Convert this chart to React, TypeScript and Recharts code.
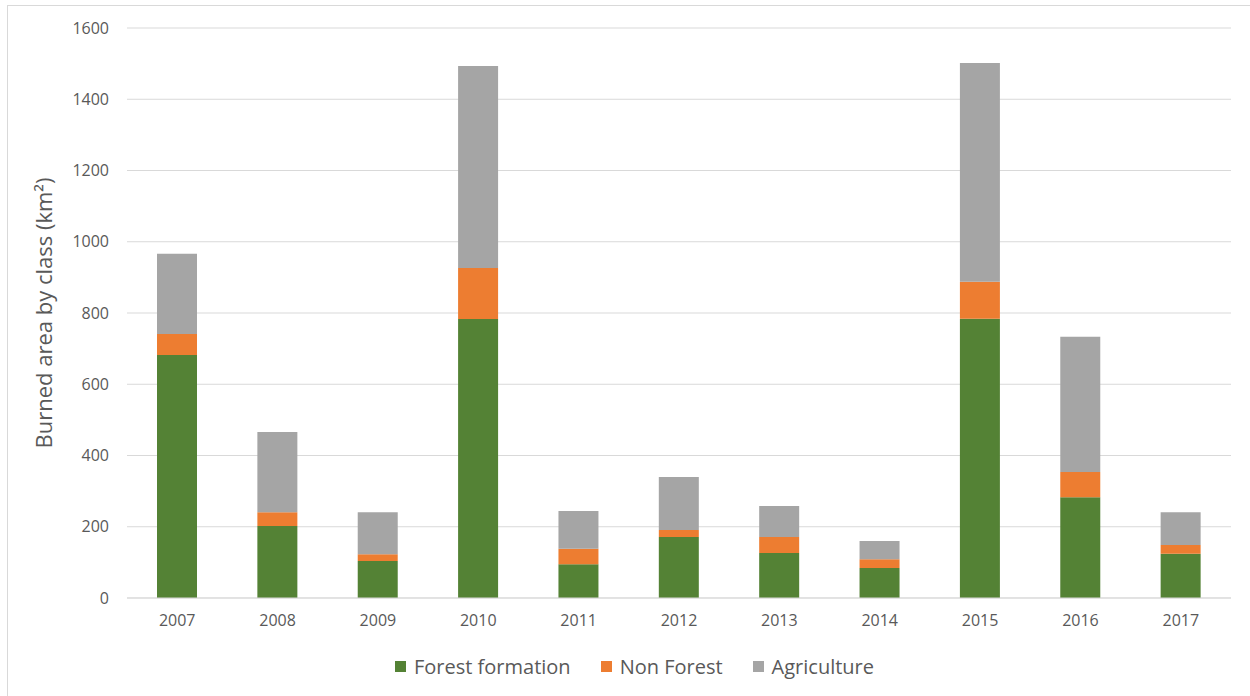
import React from 'react';
import { BarChart, Bar, XAxis, YAxis, CartesianGrid, Legend } from 'recharts';

const years = ['2007', '2008', '2009', '2010', '2011', '2012', '2013', '2014', '2015', '2016', '2017'];
const forestFormation = [682, 202, 104, 783, 95, 171, 126, 84, 784, 283, 124];
const nonForest = [59, 39, 19, 143, 43, 20, 45, 25, 104, 71, 25];
const agriculture = [225, 225, 118, 567, 106, 149, 87, 51, 614, 379, 92];
const yTicks = [0, 200, 400, 600, 800, 1000, 1200, 1400, 1600];

const series = [
  { key: 'forest', name: 'Forest formation', color: '#548235' },
  { key: 'nonForest', name: 'Non Forest', color: '#ED7D31' },
  { key: 'agriculture', name: 'Agriculture', color: '#A5A5A5' },
];

const data = years.map((year, i) => ({
  year,
  forest: forestFormation[i],
  nonForest: nonForest[i],
  agriculture: agriculture[i],
}));

const FONT = '"Open Sans", sans-serif';

const LegendContent = () => (
  <div
    style={{
      display: 'flex',
      justifyContent: 'center',
      gap: 30,
      paddingTop: 15,
      paddingLeft: 38,
      fontFamily: FONT,
      fontSize: 20,
      color: '#595959',
    }}
  >
    {series.map((s) => (
      <div key={s.key} style={{ display: 'flex', alignItems: 'center' }}>
        <div style={{ width: 11, height: 11, background: s.color, marginRight: 8 }} />
        <span>{s.name}</span>
      </div>
    ))}
  </div>
);

const App: React.FC = () => {
  return (
    <div style={{ position: 'absolute', left: 0, top: 0, width: 1250, height: 696, background: '#fff' }}>
      <div
        style={{
          position: 'absolute',
          left: 7,
          top: 5,
          right: -2,
          bottom: -2,
          borderTop: '1px solid #d9d9d9',
          borderLeft: '1px solid #d9d9d9',
        }}
      />
      <BarChart
        width={1250}
        height={696}
        data={data}
        margin={{ top: 28, right: 19, bottom: 14, left: 0 }}
        barSize={40}
      >
        <CartesianGrid vertical={false} stroke="#d9d9d9" />
        <XAxis
          dataKey="year"
          tickLine={false}
          axisLine={{ stroke: '#d9d9d9' }}
          tick={{ fill: '#595959', fontSize: 16, fontFamily: FONT }}
          tickMargin={11}
          height={40}
        />
        <YAxis
          width={127}
          domain={[0, 1600]}
          ticks={yTicks}
          tickLine={false}
          axisLine={false}
          tickMargin={12}
          tick={{ fill: '#595959', fontSize: 16, fontFamily: FONT }}
          label={{
            value: 'Burned area by class (km²)',
            angle: -90,
            position: 'insideLeft',
            offset: 44,
            style: { textAnchor: 'middle', fill: '#595959', fontSize: 22, fontFamily: FONT },
          }}
        />
        <Legend verticalAlign="bottom" height={44} content={<LegendContent />} />
        {series.map((s) => (
          <Bar key={s.key} dataKey={s.key} name={s.name} stackId="a" fill={s.color} isAnimationActive={false} />
        ))}
      </BarChart>
    </div>
  );
};

export default App;
